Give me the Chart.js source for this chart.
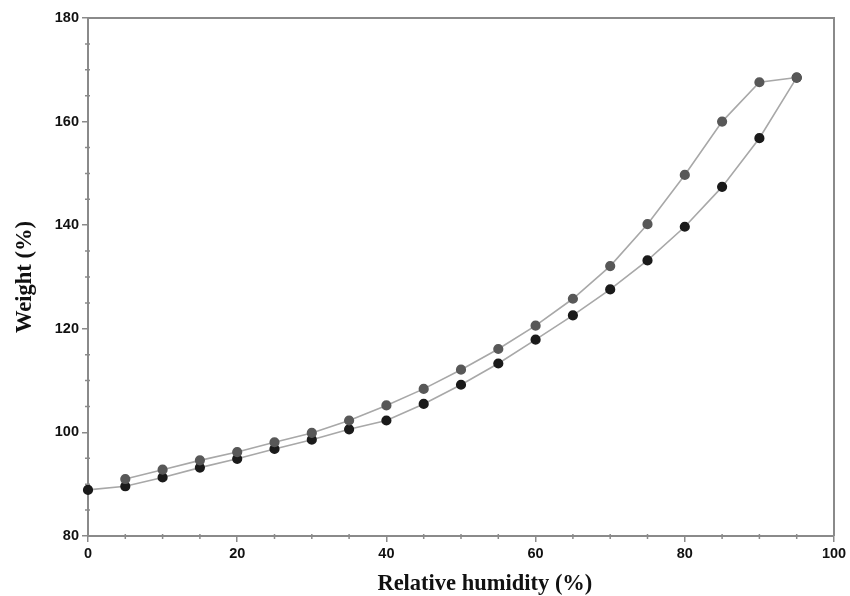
<!DOCTYPE html>
<html>
<head>
<meta charset="utf-8">
<script src="https://cdn.jsdelivr.net/npm/chart.js@4/dist/chart.umd.min.js"></script>
<style>
  html, body { margin: 0; padding: 0; background: #fff; }
  #wrap { width: 850px; height: 596px; }
</style>
</head>
<body>
<div id="wrap"><canvas id="c" width="850" height="596"></canvas></div>
<script>
// Relative humidity steps (%)
const humidity = [0, 5, 10, 15, 20, 25, 30, 35, 40, 45, 50, 55, 60, 65, 70, 75, 80, 85, 90, 95];
// Sorption branch (lower curve), weight (%)
const sorption = [88.9, 89.6, 91.3, 93.2, 94.9, 96.8, 98.6, 100.6, 102.3, 105.5,
                  109.2, 113.3, 117.9, 122.6, 127.6, 133.2, 139.7, 147.4, 156.8, 168.5];
// Desorption branch (upper curve), weight (%); no reading at 0 %
const desorption = [null, 91.0, 92.8, 94.6, 96.2, 98.1, 99.9, 102.3, 105.2, 108.4,
                    112.1, 116.1, 120.6, 125.8, 132.1, 140.2, 149.7, 160.0, 167.6, 168.5];
// Axis tick values
const xTicks = [0, 20, 40, 60, 80, 100];
const yTicks = [80, 100, 120, 140, 160, 180];
const xTitle = 'Relative humidity (%)';
const yTitle = 'Weight (%)';

const toPoints = (ys) => humidity.map((x, i) => ({ x, y: ys[i] })).filter(p => p.y !== null);

const axisGrey = '#8a8a8a';
const tickFont = { family: '"Liberation Sans", Arial, sans-serif', size: 14.5, weight: 'bold' };
const titleFont = { family: '"Liberation Serif", "Times New Roman", serif', size: 22.5, weight: 'bold' };

// Frame on top/right, short minor ticks every 5 units, and the x-axis title
const framePlugin = {
  id: 'frameAndMinor',
  afterDraw(chart) {
    const { ctx, chartArea: a, scales } = chart;
    ctx.save();
    ctx.strokeStyle = axisGrey;
    ctx.lineWidth = 2;
    ctx.beginPath();
    ctx.moveTo(a.left, a.top);
    ctx.lineTo(a.right, a.top);
    ctx.lineTo(a.right, a.bottom);
    ctx.stroke();
    ctx.lineWidth = 1.5;
    ctx.beginPath();
    for (let v = 5; v < 100; v += 5) {
      if (v % 20 === 0) continue;
      const px = scales.x.getPixelForValue(v);
      ctx.moveTo(px, a.bottom - 2);
      ctx.lineTo(px, a.bottom + 3);
    }
    for (let v = 85; v < 180; v += 5) {
      if (v % 20 === 0) continue;
      const py = scales.y.getPixelForValue(v);
      ctx.moveTo(a.left + 2, py);
      ctx.lineTo(a.left - 3, py);
    }
    ctx.stroke();

    ctx.fillStyle = '#111';
    ctx.font = `bold ${titleFont.size}px ${titleFont.family}`;
    ctx.textAlign = 'center';
    ctx.textBaseline = 'alphabetic';
    ctx.fillText(xTitle, scales.x.getPixelForValue(53.2), 590);
    ctx.restore();
  }
};

new Chart(document.getElementById('c'), {
  type: 'line',
  data: {
    datasets: [
      {
        label: 'Desorption',
        data: toPoints(desorption),
        borderColor: '#a8a8a8',
        borderWidth: 1.6,
        pointBackgroundColor: '#585858',
        pointBorderColor: '#585858',
        pointRadius: 4.3,
        tension: 0,
        clip: false,
        fill: false
      },
      {
        label: 'Sorption',
        data: toPoints(sorption),
        borderColor: '#a8a8a8',
        borderWidth: 1.6,
        pointBackgroundColor: '#1a1a1a',
        pointBorderColor: '#1a1a1a',
        pointRadius: 4.3,
        tension: 0,
        clip: false,
        fill: false
      }
    ]
  },
  options: {
    responsive: false,
    animation: false,
    events: [],
    layout: { padding: { top: 18, right: 16, left: 0, bottom: 0 } },
    plugins: { legend: { display: false }, tooltip: { enabled: false } },
    scales: {
      x: {
        type: 'linear',
        min: 0, max: 100,
        afterBuildTicks: (s) => { s.ticks = xTicks.map(v => ({ value: v })); },
        afterFit: (s) => { s.height = 60; },
        ticks: { font: tickFont, color: '#111', padding: 3, maxRotation: 0 },
        grid: { drawOnChartArea: false, drawTicks: true, tickLength: 6, color: axisGrey, lineWidth: 1.5 },
        border: { color: axisGrey, width: 2 },
        title: { display: false }
      },
      y: {
        type: 'linear',
        min: 80, max: 180,
        afterBuildTicks: (s) => { s.ticks = yTicks.map(v => ({ value: v })); },
        afterFit: (s) => { s.width = 88; },
        ticks: { font: tickFont, color: '#111', padding: 3 },
        grid: { drawOnChartArea: false, drawTicks: true, tickLength: 6, color: axisGrey, lineWidth: 1.5 },
        border: { color: axisGrey, width: 2 },
        title: { display: true, text: yTitle, font: titleFont, color: '#111', padding: { top: 12, bottom: 2 } }
      }
    }
  },
  plugins: [framePlugin]
});
</script>
</body>
</html>
